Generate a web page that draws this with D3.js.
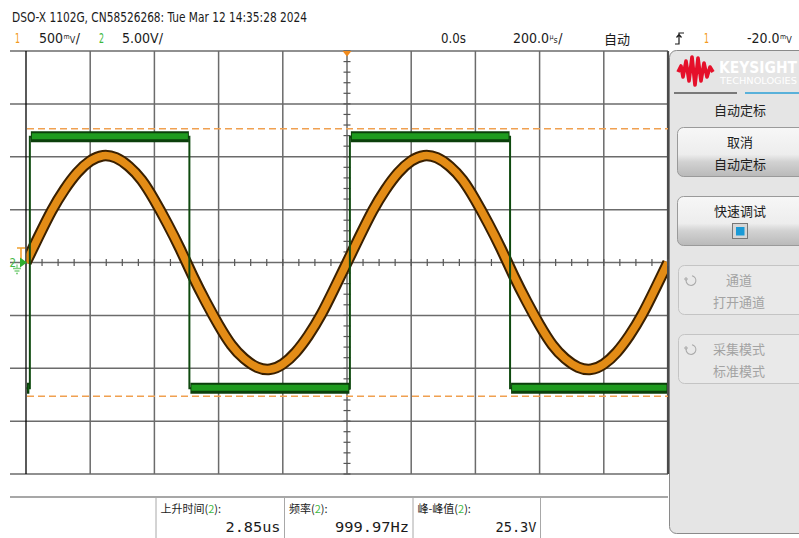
<!DOCTYPE html>
<html>
<head>
<meta charset="utf-8">
<script src="https://cdn.jsdelivr.net/npm/d3@7"></script>
<style>
  body { margin: 0; background: #fff; }
  svg { display: block; }
  .lat { font-family: "Liberation Sans Narrow", "DejaVu Sans Condensed", "Liberation Sans", sans-serif; }
  .mono { font-family: "DejaVu Sans Mono", "Liberation Mono", monospace; }
  .cjk { font-family: "Noto Sans CJK SC", "Noto Sans CJK JP", sans-serif; }
</style>
</head>
<body>
<svg id="scope" width="799" height="538"></svg>
<script>
// ---- acquisition settings ----
const timeRangeUs = [-1000, 1000];   // 10 div x 200 us/div
const ch1RangeV   = [-2, 2];         // 8 div x 500 mV/div
const ch2RangeV   = [-20, 20];       // 8 div x 5.00 V/div
const sampleStepUs = 40;

// channel 1 (sine), one sample every 40 us starting at -1000 us
const ch1Volts = [
   0.00,  0.25,  0.49,  0.69,  0.85,  0.96,  1.01,  0.99,  0.91,  0.78,
   0.59,  0.37,  0.13, -0.13, -0.37, -0.59, -0.78, -0.91, -0.99, -1.01,
  -0.96, -0.85, -0.69, -0.49, -0.25,
   0.00,  0.25,  0.49,  0.69,  0.85,  0.96,  1.01,  0.99,  0.91,  0.78,
   0.59,  0.37,  0.13, -0.13, -0.37, -0.59, -0.78, -0.91, -0.99, -1.01,
  -0.96, -0.85, -0.69, -0.49, -0.25,  0.00
];

// channel 2 (square): edge times and the level held between edges
const ch2EdgesUs  = [-988, -491, 9, 508];
const ch2LevelsV  = [-11.9, 11.9, -11.9, 11.9, -11.9];
// peak-to-peak measurement markers (max / min of channel 2)
const ch2PeakMarkersV = [12.65, -12.65];

// measurement readouts
const measLabels = ["上升时间", "频率", "峰-峰值"];
const measValues = ["2.85us", "999.97Hz", "25.3V"];

// softkey panel
const softkeys = [
  { title: "取消",     sub: "自动定标", enabled: true,  check: false },
  { title: "快速调试", sub: null,       enabled: true,  check: true  },
  { title: "通道",     sub: "打开通道", enabled: false, check: false },
  { title: "采集模式", sub: "标准模式", enabled: false, check: false }
];

// ---- layout ----
const grid = { left: 26, right: 668, top: 51, bottom: 474, lead: 10 };

const svg = d3.select("#scope");
const defs = svg.append("defs");

const x  = d3.scaleLinear().domain(timeRangeUs).range([grid.left, grid.right]);
const y1 = d3.scaleLinear().domain(ch1RangeV).range([grid.bottom, grid.top]);
const y2 = d3.scaleLinear().domain(ch2RangeV).range([grid.bottom, grid.top]);

svg.append("rect").attr("width", 799).attr("height", 538).attr("fill", "#fff");

// ---- softkey panel ----
const btnGrad = defs.append("linearGradient").attr("id", "btnGrad")
  .attr("x1", 0).attr("y1", 0).attr("x2", 0).attr("y2", 1);
[["0%", "#f7f7f7"], ["55%", "#ededed"], ["70%", "#d2d2d2"], ["100%", "#b9b9b9"]]
  .forEach(([o, c]) => btnGrad.append("stop").attr("offset", o).attr("stop-color", c));

const panel = svg.append("g");
panel.append("rect")
  .attr("x", 669.5).attr("y", 50.5).attr("width", 140).attr("height", 483)
  .attr("rx", 7).attr("fill", "#e5e5e5").attr("stroke", "#8a8a8a");

// logo
const logoPts = [[678,72],[681,66],[683,77],[686,61],[689,81],[692,57],[695,85],
                 [698,58],[701,81],[704,63],[707,77],[710,67],[713,72]];
panel.append("path")
  .attr("d", d3.line()(logoPts))
  .attr("fill", "none").attr("stroke", "#e5102a").attr("stroke-width", 3.6)
  .attr("stroke-linejoin", "round");
panel.append("text").attr("class", "lat")
  .attr("x", 719).attr("y", 73).attr("font-size", 16).attr("fill", "#fff")
  .attr("font-weight", "bold")
  .attr("textLength", 78).attr("lengthAdjust", "spacingAndGlyphs").text("KEYSIGHT");
panel.append("text").attr("class", "lat")
  .attr("x", 720).attr("y", 84).attr("font-size", 8.5).attr("fill", "#fff")
  .attr("textLength", 77).attr("lengthAdjust", "spacingAndGlyphs").text("TECHNOLOGIES");

panel.append("line").attr("x1", 674).attr("x2", 737).attr("y1", 93).attr("y2", 93)
  .attr("stroke", "#555").attr("stroke-width", 1.5);
panel.append("line").attr("x1", 745).attr("x2", 799).attr("y1", 93).attr("y2", 93)
  .attr("stroke", "#2a9fd6").attr("stroke-width", 1.5);

panel.append("text").attr("class", "cjk")
  .attr("x", 740).attr("y", 115).attr("text-anchor", "middle")
  .attr("font-size", 13).attr("fill", "#222").text("自动定标");

const keyTops = [127.5, 196.5, 265.5, 334.5];
softkeys.forEach((k, i) => {
  const top = keyTops[i];
  const g = panel.append("g");
  g.append("rect")
    .attr("x", k.enabled ? 677.5 : 678.5).attr("y", top)
    .attr("width", 130).attr("height", 49).attr("rx", 6)
    .attr("fill", k.enabled ? "url(#btnGrad)" : "#e9e9e9")
    .attr("stroke", k.enabled ? "#9a9a9a" : "#c4c4c4");
  const col = k.enabled ? "#1e1e1e" : "#a3a3a3";
  const cx = k.enabled ? 740 : 739;
  g.append("text").attr("class", "cjk")
    .attr("x", cx).attr("y", top + 19).attr("text-anchor", "middle")
    .attr("font-size", 13).attr("fill", col).text(k.title);
  if (k.sub) {
    g.append("text").attr("class", "cjk")
      .attr("x", cx).attr("y", top + 41).attr("text-anchor", "middle")
      .attr("font-size", 13).attr("fill", col).text(k.sub);
  }
  if (k.check) {
    g.append("rect").attr("x", 732.5).attr("y", top + 27).attr("width", 15).attr("height", 15)
      .attr("fill", "#d6d6d6").attr("stroke", "#777");
    g.append("rect").attr("x", 736).attr("y", top + 30.5).attr("width", 8.5).attr("height", 8.5)
      .attr("fill", "#1a9ad6");
  }
  if (!k.enabled) {
    // rotary-knob hint icon
    const ix = 691, iy = top + 15;
    g.append("path")
      .attr("transform", `translate(${ix},${iy})`)
      .attr("d", d3.arc().innerRadius(4.4).outerRadius(5.4).startAngle(0.2).endAngle(Math.PI * 1.55)())
      .attr("fill", "#a8a8a8");
    g.append("path")
      .attr("d", `M${ix - 7},${iy - 1.5}h4 M${ix - 5},${iy - 3.5}v4`)
      .attr("stroke", "#a8a8a8").attr("stroke-width", 1);
  }
});

// ---- graticule ----
const gridG = svg.append("g");
const xGrid = d3.range(timeRangeUs[0], timeRangeUs[1] + 1, 200);
const yGrid = d3.range(ch1RangeV[0], ch1RangeV[1] + 0.001, 0.5);

gridG.selectAll(".hg").data(yGrid).join("line")
  .attr("x1", grid.lead).attr("x2", grid.right)
  .attr("y1", d => y1(d)).attr("y2", d => y1(d))
  .attr("stroke", "#6b6b6b").attr("stroke-width", 1.5);

gridG.selectAll(".vg").data(xGrid).join("line")
  .attr("x1", d => x(d)).attr("x2", d => x(d))
  .attr("y1", grid.top).attr("y2", grid.bottom)
  .attr("stroke", (d, i) => i === 0 ? "#000" : (i === xGrid.length - 1 ? "#4a4a4a" : "#6b6b6b"))
  .attr("stroke-width", (d, i) => i === 0 ? 1.3 : (i === xGrid.length - 1 ? 2.2 : 1.5));

// minor ticks on the centre axes
const xMinor = d3.range(timeRangeUs[0], timeRangeUs[1] + 1, 50);
gridG.selectAll(".xm").data(xMinor).join("line")
  .attr("x1", d => x(d)).attr("x2", d => x(d))
  .attr("y1", y1(0) - 3.5).attr("y2", y1(0) + 3.5)
  .attr("stroke", "#555").attr("stroke-width", 1.2);
const yMinor = d3.range(ch1RangeV[0], ch1RangeV[1] + 0.001, 0.1);
gridG.selectAll(".ym").data(yMinor).join("line")
  .attr("x1", x(0) - 3.5).attr("x2", x(0) + 3.5)
  .attr("y1", d => y1(d)).attr("y2", d => y1(d))
  .attr("stroke", "#555").attr("stroke-width", 1.2);

// ---- peak-to-peak markers ----
svg.append("g").selectAll("line").data(ch2PeakMarkersV).join("line")
  .attr("x1", grid.left + 1).attr("x2", grid.right)
  .attr("y1", d => y2(d)).attr("y2", d => y2(d))
  .attr("stroke", "#f0a050").attr("stroke-width", 1.3)
  .attr("stroke-dasharray", "7,4");

// ---- traces ----
defs.append("clipPath").attr("id", "plotClip").append("rect")
  .attr("x", grid.left + 0.5).attr("y", grid.top).attr("width", grid.right - grid.left - 1.5)
  .attr("height", grid.bottom - grid.top);
const traces = svg.append("g").attr("clip-path", "url(#plotClip)");

const ch1Data = ch1Volts.map((v, i) => ({ t: timeRangeUs[0] + i * sampleStepUs, v }));
const ch1Line = d3.line().x(d => x(d.t)).y(d => y1(d.v)).curve(d3.curveNatural);
traces.append("path").datum(ch1Data).attr("d", ch1Line)
  .attr("fill", "none").attr("stroke", "#3a2000").attr("stroke-width", 11.5);
traces.append("path").datum(ch1Data).attr("d", ch1Line)
  .attr("fill", "none").attr("stroke", "#e38c16").attr("stroke-width", 7.5);

// channel 2 segments
const bounds = [timeRangeUs[0], ...ch2EdgesUs, timeRangeUs[1]];
const ch2Segs = ch2LevelsV.map((v, i) => ({ t0: bounds[i], t1: bounds[i + 1], v }));
const ch2Pts = ch2Segs.flatMap(s => [{ t: s.t0, v: s.v }, { t: s.t1, v: s.v }]);
traces.append("path").datum(ch2Pts)
  .attr("d", d3.line().x(d => x(d.t)).y(d => y2(d.v)))
  .attr("fill", "none").attr("stroke", "#0f4a0f").attr("stroke-width", 2);
traces.selectAll(".segDark").data(ch2Segs).join("line")
  .attr("x1", d => x(d.t0) + 1).attr("x2", d => x(d.t1) - 0.5)
  .attr("y1", d => y2(d.v)).attr("y2", d => y2(d.v))
  .attr("stroke", "#0b3f0b").attr("stroke-width", 11);
traces.selectAll(".segLite").data(ch2Segs).join("line")
  .attr("x1", d => x(d.t0) + 2).attr("x2", d => x(d.t1) - 1.5)
  .attr("y1", d => y2(d.v) - 0.5).attr("y2", d => y2(d.v) - 0.5)
  .attr("stroke", "#1f9b1f").attr("stroke-width", 6);

// trigger position marker
svg.append("path")
  .attr("d", `M${x(0) - 4.5},${grid.top} L${x(0) + 4.5},${grid.top} L${x(0)},${grid.top + 5.5} Z`)
  .attr("fill", "#f08a1c");

// channel ground / trigger-level markers on the left
const mk = svg.append("g");
const zeroY = y1(0);
mk.append("path").attr("d", `M17,${zeroY - 14.5}H25M21,${zeroY - 14.5}V${zeroY - 3}`)
  .attr("stroke", "#f0a030").attr("stroke-width", 1.6).attr("fill", "none");
mk.append("text").attr("class", "lat").attr("x", 9.5).attr("y", zeroY + 4.5)
  .attr("font-size", 11.5).attr("fill", "#45b845").text("2");
mk.append("path").attr("d", `M20,${zeroY - 5}L27,${zeroY}L20,${zeroY + 5}Z`).attr("fill", "#2fae2f");
mk.append("path")
  .attr("d", `M17,${zeroY + 2}V${zeroY + 6}M13,${zeroY + 6}H21M14.5,${zeroY + 8.5}H19.5M16,${zeroY + 11}H18`)
  .attr("stroke", "#7fcf7f").attr("stroke-width", 1.3).attr("fill", "none");

// ---- header ----
const hdr = svg.append("g").attr("fill", "#1b1b1b");
hdr.append("text").attr("class", "lat").attr("x", 12).attr("y", 22).attr("font-size", 14)
  .attr("textLength", 295).attr("lengthAdjust", "spacingAndGlyphs")
  .text("DSO-X 1102G, CN58526268: Tue Mar 12 14:35:28 2024");

function plain(txt, x0, len, col) {
  hdr.append("text").attr("class", "lat").attr("x", x0).attr("y", 43).attr("font-size", 14)
    .attr("textLength", len).attr("lengthAdjust", "spacingAndGlyphs")
    .attr("fill", col || "#1b1b1b").text(txt);
}
// value followed by a compact unit: small raised prefix, small symbol
function withUnit(num, prefix, sym, tail, x0) {
  const t = hdr.append("text").attr("class", "lat").attr("x", x0).attr("y", 43).attr("font-size", 14);
  t.append("tspan").text(num);
  t.append("tspan").attr("font-size", 7).attr("dx", 0.5).attr("dy", -4).text(prefix);
  t.append("tspan").attr("font-size", 9).attr("dx", 0).attr("dy", 4).text(sym);
  if (tail) t.append("tspan").attr("dx", 0.5).text(tail);
}
plain("1", 15, 5, "#f39a20");
withUnit("500", "m", "V", "/", 39);
plain("2", 99, 5, "#3db83d");
plain("5.00V/", 122, 41);
plain("0.0s", 441, 25);
withUnit("200.0", "µ", "s", "/", 513);
hdr.append("text").attr("class", "cjk").attr("x", 604).attr("y", 44).attr("font-size", 13)
  .text("自动");
hdr.append("path")
  .attr("d", "M675,44H679V33H684M676.5,37.5L679,34.5L681.5,37.5")
  .attr("stroke", "#1b1b1b").attr("stroke-width", 1.2).attr("fill", "none");
plain("1", 704, 5, "#f39a20");
withUnit("-20.0", "m", "V", null, 747);

// ---- measurement bar ----
const meas = svg.append("g");
meas.append("line").attr("x1", grid.lead).attr("x2", grid.right).attr("y1", 497).attr("y2", 497)
  .attr("stroke", "#8a8a8a").attr("stroke-width", 1.5);
const cellX = [156, 284.5, 413, 540.5];
const valueLens = [55, 74, 41];
meas.selectAll(".sep").data(cellX).join("line")
  .attr("x1", d => d).attr("x2", d => d).attr("y1", 498).attr("y2", 538)
  .attr("stroke", "#a8a8a8").attr("stroke-width", 1);
measLabels.forEach((lab, i) => {
  const t = meas.append("text").attr("class", "cjk").attr("x", cellX[i] + 4.5).attr("y", 513)
    .attr("font-size", 11).attr("fill", "#1b1b1b");
  t.append("tspan").text(lab + "(");
  t.append("tspan").attr("fill", "#3db83d").text("2");
  t.append("tspan").text("):");
});
measValues.forEach((val, i) => {
  meas.append("text").attr("class", "mono").attr("x", cellX[i + 1] - 4 - valueLens[i]).attr("y", 532)
    .attr("font-size", 14).attr("fill", "#1b1b1b")
    .attr("textLength", valueLens[i]).attr("lengthAdjust", "spacingAndGlyphs").text(val);
});
</script>
</body>
</html>
